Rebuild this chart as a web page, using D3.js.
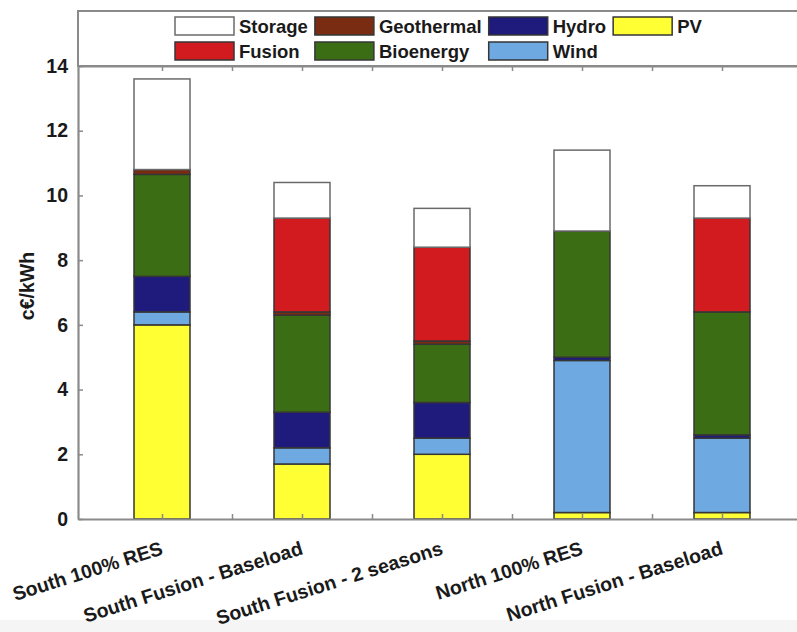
<!DOCTYPE html>
<html>
<head>
<meta charset="utf-8">
<script src="https://cdn.jsdelivr.net/npm/d3@7"></script>
<style>
  body { margin: 0; background: #fff; }
  svg text { font-family: "Liberation Sans", Arial, sans-serif; font-weight: bold; fill: #1a1a1a; }
</style>
</head>
<body>
<svg id="chart" width="797" height="632"></svg>
<script>
// Levelised cost of electricity by scenario, stacked by technology (c€/kWh)
const scenarios = ["South 100% RES", "South Fusion - Baseload", "South Fusion - 2 seasons", "North 100% RES", "North Fusion - Baseload"];
const positions = [1, 2, 3, 4, 5];
const pv         = [6.0, 1.7, 2.0, 0.2, 0.2];
const wind       = [0.4, 0.5, 0.5, 4.7, 2.3];
const hydro      = [1.1, 1.1, 1.1, 0.1, 0.1];
const bioenergy  = [3.15, 3.0, 1.8, 3.9, 3.8];
const geothermal = [0.15, 0.1, 0.1, 0, 0];
const fusion     = [0, 2.9, 2.9, 0, 2.9];
const storage    = [2.8, 1.1, 1.2, 2.5, 1.0];

const seriesNames = ["PV", "Wind", "Hydro", "Bioenergy", "Geothermal", "Fusion", "Storage"];
const seriesValues = [pv, wind, hydro, bioenergy, geothermal, fusion, storage];
const seriesColors = ["#ffff33", "#6ea9e1", "#1e1b7c", "#3a6d14", "#7a2c12", "#d11b1e", "#ffffff"];
const yTicks = [0, 2, 4, 6, 8, 10, 12, 14];
const xTicks = [1, 1.5, 2, 2.5, 3, 3.5, 4, 4.5, 5];
const yLabel = "c€/kWh";

const rows = positions.map((p, i) => {
  const r = { pos: p, name: scenarios[i] };
  seriesNames.forEach((s, k) => r[s] = seriesValues[k][i]);
  return r;
});

const svg = d3.select("#chart");
const W = 797, H = 632;
const plot = { left: 78, top: 66, bottom: 519, right: 806 };
const legendTop = 11;
const labelSize = 19.5;

const x = d3.scaleLinear().domain([0.4, 5.6]).range([plot.left, plot.right]);
const y = d3.scaleLinear().domain([0, 14]).range([plot.bottom, plot.top]);
const color = d3.scaleOrdinal().domain(seriesNames).range(seriesColors);
const outline = name => name === "Storage" ? "#6a6a6a" : "#363636";

// faint band along the bottom edge
svg.append("rect").attr("x", 0).attr("y", 620).attr("width", W).attr("height", H - 620).attr("fill", "#f5f5f5");

// stacked bars
const stacked = d3.stack().keys(seriesNames)(rows);
const barHalf = 0.2;
svg.append("g").selectAll("g").data(stacked).join("g")
  .attr("fill", d => color(d.key))
  .attr("stroke", d => outline(d.key))
  .selectAll("rect").data(d => d.filter(s => s[1] - s[0] > 0)).join("rect")
  .attr("x", d => x(d.data.pos - barHalf))
  .attr("width", d => x(d.data.pos + barHalf) - x(d.data.pos - barHalf))
  .attr("y", d => y(d[1]))
  .attr("height", d => y(d[0]) - y(d[1]))
  .attr("stroke-width", 1.5);

// axes (ticks pointing inward)
const axisColor = "#8a8a8a";
function styleAxis(g) {
  g.select(".domain").attr("stroke", axisColor).attr("stroke-width", 2.2);
  g.selectAll(".tick line").attr("stroke", axisColor).attr("stroke-width", 1.5);
}
svg.append("g").attr("transform", `translate(0,${plot.bottom})`)
  .call(d3.axisBottom(x).tickValues(xTicks).tickSize(-5).tickSizeOuter(0).tickFormat(""))
  .call(styleAxis);
svg.append("g").attr("transform", `translate(0,${plot.top})`)
  .call(d3.axisTop(x).tickValues(xTicks).tickSize(-5).tickSizeOuter(0).tickFormat(""))
  .call(styleAxis);
const yAxis = svg.append("g").attr("transform", `translate(${plot.left},0)`)
  .call(d3.axisLeft(y).tickValues(yTicks).tickSize(-5).tickSizeOuter(0).tickPadding(10))
  .call(styleAxis);
yAxis.selectAll("text").attr("font-size", labelSize).attr("font-family", "Liberation Sans, Arial, sans-serif").attr("font-weight", "bold").attr("fill", "#1a1a1a");

// y axis title
svg.append("text")
  .attr("transform", `translate(34,286) rotate(-90)`)
  .attr("text-anchor", "middle").attr("font-size", labelSize)
  .text(yLabel);

// rotated category labels
svg.append("g").selectAll("text").data(rows).join("text")
  .attr("transform", d => `translate(${x(d.pos) + 2},${plot.bottom + 35}) rotate(-17.5)`)
  .attr("text-anchor", "end").attr("font-size", labelSize)
  .text(d => d.name);

// legend box above the plot
svg.append("rect").attr("x", plot.left).attr("y", legendTop)
  .attr("width", plot.right - plot.left).attr("height", plot.top - legendTop)
  .attr("fill", "none").attr("stroke", axisColor).attr("stroke-width", 2);

const legendOrder = seriesNames.slice().reverse(); // filled column by column, two rows
const sw = 59, sh = 18, rowY = [17, 42];
const lg = svg.append("g");
let colX = 175;
for (let c = 0; c * 2 < legendOrder.length; c++) {
  let maxW = 0;
  for (let r = 0; r < 2; r++) {
    const name = legendOrder[c * 2 + r];
    if (!name) continue;
    lg.append("rect").attr("x", colX).attr("y", rowY[r]).attr("width", sw).attr("height", sh)
      .attr("fill", color(name)).attr("stroke", outline(name)).attr("stroke-width", 1.5);
    const t = lg.append("text").attr("x", colX + sw + 5).attr("y", rowY[r] + sh / 2 + 6.5)
      .attr("font-size", 18.5).text(name);
    maxW = Math.max(maxW, t.node().getComputedTextLength());
  }
  colX += sw + 5 + maxW + 7;
}
</script>
</body>
</html>
